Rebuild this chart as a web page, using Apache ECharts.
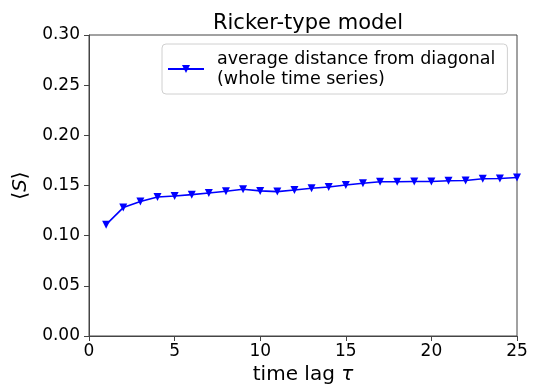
<!DOCTYPE html>
<html>
<head>
<meta charset="utf-8">
<script src="https://cdn.jsdelivr.net/npm/echarts@6/dist/echarts.min.js"></script>
<style>html,body{margin:0;padding:0;background:#fff;}#c{width:535px;height:390px;}</style>
</head>
<body>
<div id="c"></div>
<script>
const lags = [1,2,3,4,5,6,7,8,9,10,11,12,13,14,15,16,17,18,19,20,21,22,23,24,25];
const avgDist = [0.111,0.128,0.134,0.1386,0.1396,0.1409,0.1426,0.1443,0.1462,0.1446,0.1439,0.1455,0.1473,0.1485,0.1505,0.1522,0.1538,0.1538,0.154,0.154,0.1548,0.155,0.1568,0.157,0.158];
const seriesName = 'average distance from diagonal\n(whole time series)';
const titleText = 'Ricker-type model';

const FONT = 'DejaVu Sans';
const axisCol = '#444';
const chart = echarts.init(document.getElementById('c'), null, {renderer:'canvas'});
chart.setOption({
  animation: false,
  backgroundColor: '#fff',
  title: {
    text: titleText, left: 303, top: 8, textAlign: 'center',
    textStyle: {fontFamily: FONT, fontSize: 21, fontWeight: 'normal', color: '#000'}
  },
  grid: {left: 89, right: 18, top: 35, bottom: 52, show: true, borderColor: axisCol, borderWidth: 1, backgroundColor: 'transparent'},
  legend: {
    left: 162, top: 44,
    padding: [5, 12, 5, 5],
    backgroundColor: '#fff',
    borderColor: '#d0d0d0', borderWidth: 1, borderRadius: 4,
    itemWidth: 36, itemHeight: 10,
    textStyle: {fontFamily: FONT, fontSize: 17.5, color: '#000', lineHeight: 20, padding: [0,0,0,8]},
    data: [seriesName]
  },
  xAxis: {
    type: 'value', min: 0, max: 25, interval: 5,
    name: '{n|time lag }{i|τ}', nameLocation: 'middle', nameGap: 29,
    nameTextStyle: {fontFamily: FONT, fontSize: 20, color: '#000',
      rich: {n: {fontFamily: FONT, fontSize: 20, color: '#000'}, i: {fontFamily: FONT, fontSize: 20, fontStyle: 'italic', color: '#000'}}},
    axisLine: {show: true, onZero: false, lineStyle: {color: axisCol, width: 1}},
    axisTick: {show: true, length: 5, inside: false, lineStyle: {color: axisCol}},
    axisLabel: {fontFamily: FONT, fontSize: 17, color: '#000', margin: 7},
    splitLine: {show: false}
  },
  yAxis: {
    type: 'value', min: 0, max: 0.3, interval: 0.05,
    name: '{n|⟨}{i|S}{n|⟩}', nameLocation: 'middle', nameGap: 47, nameRotate: 90,
    nameTextStyle: {fontFamily: FONT, fontSize: 20, color: '#000',
      rich: {n: {fontFamily: FONT, fontSize: 20, color: '#000'}, i: {fontFamily: FONT, fontSize: 20, fontStyle: 'italic', color: '#000'}}},
    axisLine: {show: true, onZero: false, lineStyle: {color: axisCol, width: 1}},
    axisTick: {show: true, length: 5, inside: false, lineStyle: {color: axisCol}},
    axisLabel: {fontFamily: FONT, fontSize: 17, color: '#000', margin: 9, formatter: v => v.toFixed(2)},
    splitLine: {show: false}
  },
  series: [{
    name: seriesName, type: 'line',
    data: lags.map((x, i) => [x, avgDist[i]]),
    symbol: 'triangle', symbolRotate: 180, symbolSize: 8,
    showAllSymbol: true,
    lineStyle: {color: '#0000ff', width: 1.6},
    itemStyle: {color: '#0000ff'}
  }]
});
</script>
</body>
</html>
